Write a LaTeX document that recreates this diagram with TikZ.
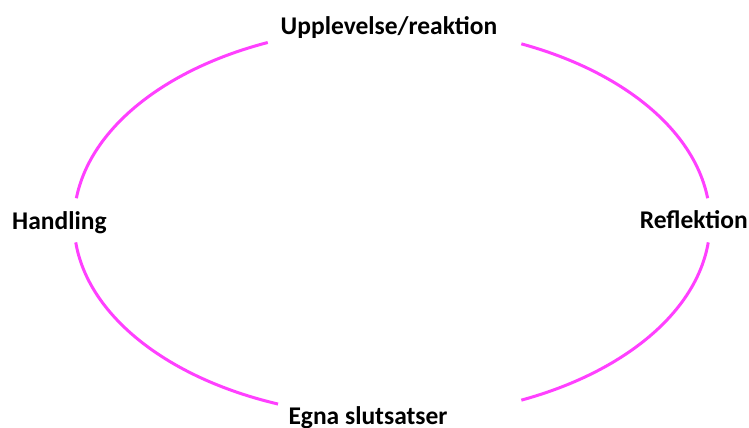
\documentclass[tikz,border=0pt]{standalone}
\usepackage{fontspec}
\setmainfont{Carlito}
\definecolor{arcmag}{RGB}{255,64,255}
\tikzset{
  lbl/.style={font=\fontsize{25.5}{30}\selectfont\bfseries, inner sep=0pt, text=black},
  cyclearc/.style={draw=arcmag, line width=3pt, x radius=318, y radius=195}
}
\begin{document}
\begin{tikzpicture}[x=1pt,y=1pt]
\useasboundingbox (0,0) rectangle (749,428);
\coordinate (c) at (392,206);
\node[lbl, anchor=base] (top) at (389,393) {Upplevelse/reaktion};
\node[lbl, anchor=base west] (left) at (12,198) {Handling};
\node[lbl, anchor=base east] (right) at (748,199) {Reflektion};
\node[lbl, anchor=base] (bottom) at (368,4) {Egna slutsatser};
\draw[cyclearc] (c) ++(173:318 and 195) arc[start angle=173, end angle=113];
\draw[cyclearc] (c) ++(66:318 and 195) arc[start angle=66, end angle=7];
\draw[cyclearc] (c) ++(186:318 and 195) arc[start angle=186, end angle=249];
\draw[cyclearc] (c) ++(354:318 and 195) arc[start angle=354, end angle=294];
\end{tikzpicture}
\end{document}
